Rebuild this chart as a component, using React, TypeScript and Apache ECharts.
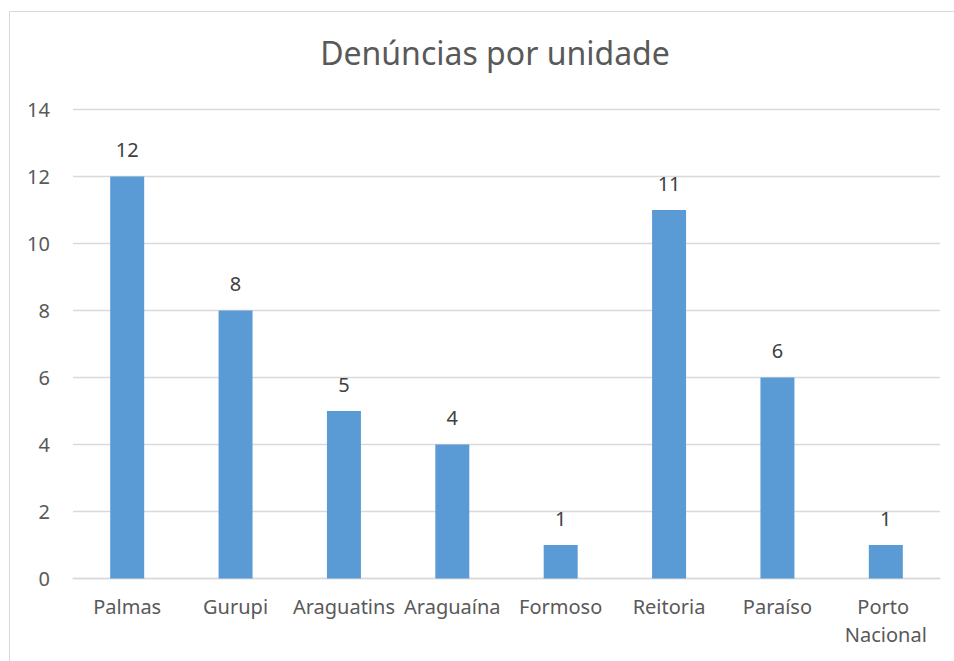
import React, { useEffect, useRef } from "react";
import * as echarts from "echarts";

const title = "Denúncias por unidade";
const categories = ["Palmas", "Gurupi", "Araguatins", "Araguaína", "Formoso", "Reitoria", "Paraíso", "Porto Nacional"];
const values = [12, 8, 5, 4, 1, 11, 6, 1];
const yTicks = [0, 2, 4, 6, 8, 10, 12, 14];

const FONT = "Noto Sans";

export default function App() {
  const ref = useRef<HTMLDivElement>(null);
  useEffect(() => {
    if (!ref.current) return;
    const chart = echarts.init(ref.current, null, { renderer: "svg" });
    chart.setOption({
      animation: false,
      backgroundColor: "#ffffff",
      textStyle: { fontFamily: FONT },
      title: {
        text: title,
        left: 490,
        top: 31,
        textAlign: "center",
        textStyle: { fontFamily: FONT, fontSize: 32, fontWeight: "normal", color: "#595959" },
      },
      graphic: [
        {
          type: "rect",
          shape: { x: 9.5, y: 11.5, width: 1000, height: 1000 },
          style: { fill: "none", stroke: "#D9D9D9", lineWidth: 1 },
          silent: true,
        },
      ],
      grid: { left: 73, right: 14, top: 109.5, bottom: 82.5, containLabel: false },
      xAxis: {
        type: "category",
        data: categories,
        axisLine: { show: true, lineStyle: { color: "#D9D9D9", width: 1.3 } },
        axisTick: { show: false },
        axisLabel: {
          interval: 0,
          margin: 14,
          fontSize: 20,
          fontFamily: FONT,
          color: "#595959",
          width: 116,
          overflow: "break",
          lineHeight: 28,
        },
      },
      yAxis: {
        type: "value",
        min: yTicks[0],
        max: yTicks[yTicks.length - 1],
        interval: 2,
        axisLine: { show: false },
        axisTick: { show: false },
        splitLine: { show: true, lineStyle: { color: "#D9D9D9", width: 1.3 } },
        axisLabel: { margin: 23, fontSize: 20, fontFamily: FONT, color: "#595959" },
      },
      series: [
        {
          type: "bar",
          data: values,
          barWidth: 34,
          itemStyle: { color: "#5B9BD5" },
          label: {
            show: true,
            position: "top",
            distance: 17,
            fontSize: 20,
            fontFamily: FONT,
            color: "#404040",
          },
        },
      ],
    });
    return () => chart.dispose();
  }, []);
  return (
    <div
      ref={ref}
      style={{ position: "fixed", left: 0, top: 0, width: 954, height: 661 }}
    />
  );
}
